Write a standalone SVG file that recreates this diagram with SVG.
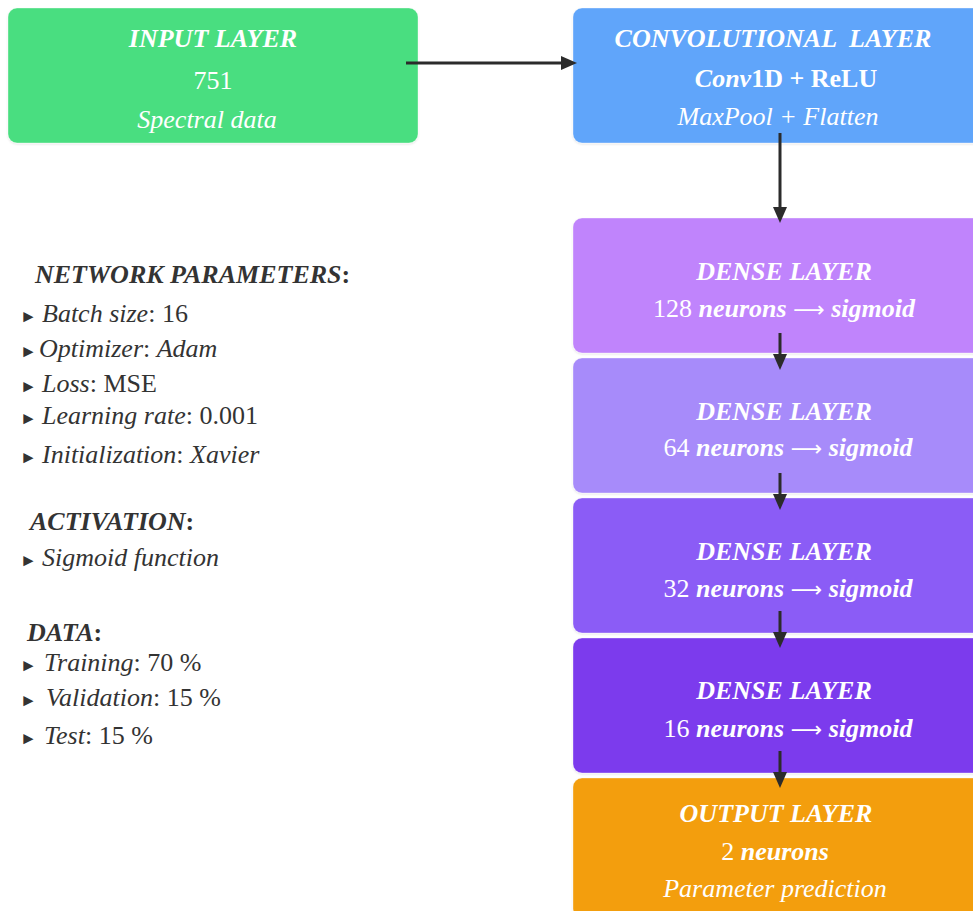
<svg xmlns="http://www.w3.org/2000/svg" width="973" height="911" viewBox="0 0 973 911">
<defs>
<marker id="ah" markerUnits="userSpaceOnUse" markerWidth="16" markerHeight="14" refX="9" refY="7" orient="auto">
<path d="M0,0 L16,7 L0,14 z" fill="#2b2b2b"/>
</marker>
<filter id="sh" x="-5%" y="-5%" width="110%" height="115%">
<feDropShadow dx="0" dy="1" stdDeviation="1.2" flood-color="#000" flood-opacity="0.12"/>
</filter>
<style>
.box{filter:url(#sh);stroke:#ffffff;stroke-opacity:0.35;stroke-width:1}
.t{font-family:"Liberation Serif","Times New Roman",serif;font-size:26px;fill:#ffffff;text-anchor:middle}
.h{font-weight:bold;font-style:italic}
.i{font-style:italic}
.bi{font-style:italic;font-weight:bold}
.b{font-weight:bold}
.ar{font-family:"DejaVu Sans",sans-serif;font-size:22px}
.l{font-family:"Liberation Serif","Times New Roman",serif;font-size:26px;fill:#333333}
.bl{font-family:"Liberation Serif","DejaVu Sans",sans-serif;font-size:17px;fill:#333333}
.c{stroke:#2b2b2b;stroke-width:3;fill:none;marker-end:url(#ah)}
</style>
</defs>

<g id="input-layer">
<rect class="box" x="8" y="8" width="410" height="135" rx="9" fill="#4ade80"/>
<text class="t h" x="213" y="47">INPUT LAYER</text>
<text class="t" x="213" y="89" font-size="24">751</text>
<text class="t i" x="207" y="128">Spectral data</text>
</g>

<g id="conv-layer">
<rect class="box" x="573" y="8" width="420" height="135" rx="9" fill="#60a5fa"/>
<text class="t h" x="773" y="47" style="white-space:pre">CONVOLUTIONAL  LAYER</text>
<text class="t b" x="786" y="87"><tspan class="bi">Conv</tspan>1D + ReLU</text>
<text class="t i" x="778" y="125">MaxPool + Flatten</text>
</g>

<g id="dense-128">
<rect class="box" x="573" y="218" width="420" height="135" rx="9" fill="#c084fc"/>
<text class="t h" x="784" y="280">DENSE LAYER</text>
<text class="t" x="784" y="317">128 <tspan class="bi">neurons</tspan> <tspan class="ar">⟶</tspan> <tspan class="bi">sigmoid</tspan></text>
</g>

<g id="dense-64">
<rect class="box" x="573" y="358" width="420" height="135" rx="9" fill="#a78bfa"/>
<text class="t h" x="784" y="420">DENSE LAYER</text>
<text class="t" x="788" y="456">64 <tspan class="bi">neurons</tspan> <tspan class="ar">⟶</tspan> <tspan class="bi">sigmoid</tspan></text>
</g>

<g id="dense-32">
<rect class="box" x="573" y="498" width="420" height="135" rx="9" fill="#8b5cf6"/>
<text class="t h" x="784" y="560">DENSE LAYER</text>
<text class="t" x="788" y="597">32 <tspan class="bi">neurons</tspan> <tspan class="ar">⟶</tspan> <tspan class="bi">sigmoid</tspan></text>
</g>

<g id="dense-16">
<rect class="box" x="573" y="638" width="420" height="135" rx="9" fill="#7c3aed"/>
<text class="t h" x="784" y="699">DENSE LAYER</text>
<text class="t" x="788" y="737">16 <tspan class="bi">neurons</tspan> <tspan class="ar">⟶</tspan> <tspan class="bi">sigmoid</tspan></text>
</g>

<g id="output-layer">
<rect class="box" x="573" y="778" width="420" height="140" rx="9" fill="#f39e0c"/>
<text class="t h" x="776" y="822">OUTPUT LAYER</text>
<text class="t" x="775" y="860">2 <tspan class="bi">neurons</tspan></text>
<text class="t i" x="775" y="897">Parameter prediction</text>
</g>

<g id="connectors">
<line class="c" x1="406" y1="63" x2="570" y2="63"/>
<line class="c" x1="780" y1="133" x2="780" y2="216"/>
<line class="c" x1="780" y1="333" x2="780" y2="363"/>
<line class="c" x1="780" y1="473" x2="780" y2="503"/>
<line class="c" x1="780" y1="611" x2="780" y2="641"/>
<line class="c" x1="780" y1="751" x2="780" y2="781"/>
</g>

<g id="parameters-panel">
<text class="l" x="35" y="283"><tspan class="bi">NETWORK PARAMETERS</tspan><tspan class="b">:</tspan></text>
<text class="bl" x="20" y="322">►</text>
<text class="l" x="42" y="322"><tspan class="i">Batch size</tspan>: 16</text>
<text class="bl" x="20" y="357">►</text>
<text class="l" x="39" y="357"><tspan class="i">Optimizer</tspan>: <tspan class="i">Adam</tspan></text>
<text class="bl" x="20" y="392">►</text>
<text class="l" x="42" y="392"><tspan class="i">Loss</tspan>: MSE</text>
<text class="bl" x="20" y="424">►</text>
<text class="l" x="42" y="424"><tspan class="i">Learning rate</tspan>: 0.001</text>
<text class="bl" x="20" y="463">►</text>
<text class="l" x="42" y="463"><tspan class="i">Initialization</tspan>: <tspan class="i">Xavier</tspan></text>

<text class="l" x="30" y="530"><tspan class="bi">ACTIVATION</tspan><tspan class="b">:</tspan></text>
<text class="bl" x="20" y="566">►</text>
<text class="l" x="42" y="566"><tspan class="i">Sigmoid function</tspan></text>

<text class="l" x="27" y="641"><tspan class="bi">DATA</tspan><tspan class="b">:</tspan></text>
<text class="bl" x="20" y="671">►</text>
<text class="l" x="44" y="671"><tspan class="i">Training</tspan>: 70 %</text>
<text class="bl" x="20" y="706">►</text>
<text class="l" x="46" y="706"><tspan class="i">Validation</tspan>: 15 %</text>
<text class="bl" x="20" y="744">►</text>
<text class="l" x="44" y="744"><tspan class="i">Test</tspan>: 15 %</text>
</g>
</svg>
